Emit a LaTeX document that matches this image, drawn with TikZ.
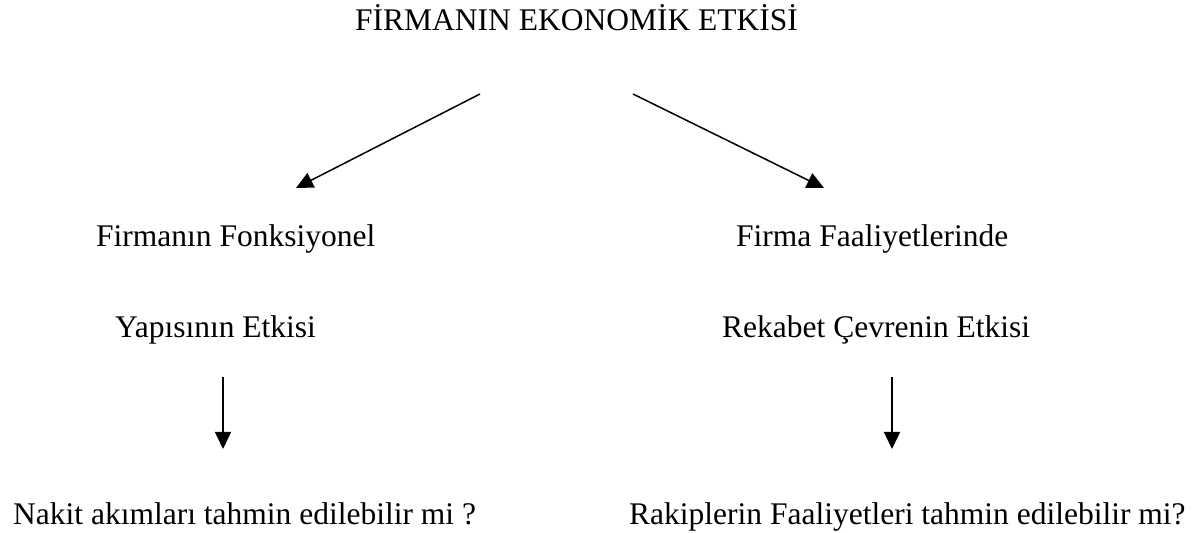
\documentclass[tikz,border=0pt]{standalone}
\usepackage{fontspec}
\setmainfont{Liberation Serif}
\usetikzlibrary{arrows.meta}
\tikzset{
  lbl/.style={anchor=base west, inner sep=0pt, font=\fontsize{31.5}{36}\selectfont},
  arr/.style={line width=1.5pt, -{Triangle[length=17pt,width=16pt]}}
}
\begin{document}
\begin{tikzpicture}[x=1pt,y=1pt]
\useasboundingbox (0,0) rectangle (1200,533);
\node[lbl] (title) at (355,502) {FİRMANIN EKONOMİK ETKİSİ};
\node[lbl] (f1) at (96,286) {Firmanın Fonksiyonel};
\node[lbl] (y1) at (115,195) {Yapısının Etkisi};
\node[lbl] (n1) at (13,8) {Nakit akımları tahmin edilebilir mi ?};
\node[lbl] (f2) at (736,286) {Firma Faaliyetlerinde};
\node[lbl] (r2) at (722,195) {Rekabet Çevrenin Etkisi};
\node[lbl] (r3) at (629,8) {Rakiplerin Faaliyetleri tahmin edilebilir mi?};
\coordinate (a1s) at (480,439);
\coordinate (a1e) at (296,345);
\coordinate (a2s) at (633,439);
\coordinate (a2e) at (824,345);
\coordinate (a3s) at (223,156);
\coordinate (a3e) at (223,84);
\coordinate (a4s) at (892,156);
\coordinate (a4e) at (892,84);
\draw[arr] (a1s) -- (a1e);
\draw[arr] (a2s) -- (a2e);
\draw[arr] (a3s) -- (a3e);
\draw[arr] (a4s) -- (a4e);
\end{tikzpicture}
\end{document}
